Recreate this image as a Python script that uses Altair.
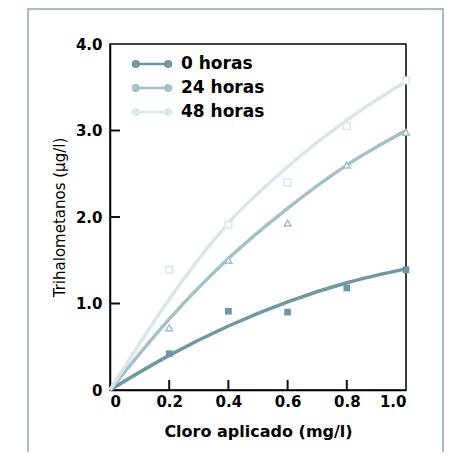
import altair as alt
import pandas as pd

series = ["0 horas", "24 horas", "48 horas"]
colors = ["#6e98a6", "#a3c1cb", "#dae6ea"]

x_grid = [0, 0.2, 0.4, 0.6, 0.8, 1.0]
curve_0 = [0, 0.40, 0.74, 1.02, 1.24, 1.40]
curve_24 = [0, 0.82, 1.52, 2.10, 2.60, 3.00]
curve_48 = [0, 1.05, 1.93, 2.58, 3.12, 3.57]

x_pts = [0.2, 0.4, 0.6, 0.8, 1.0]
pts_0 = [0.42, 0.91, 0.90, 1.18, 1.39]
pts_24 = [0.72, 1.50, 1.93, 2.60, 2.98]
pts_48 = [1.39, 1.91, 2.40, 3.05, 3.58]

x_ticks = [0.2, 0.4, 0.6, 0.8]
y_ticks = [1, 2, 3]

curves = pd.DataFrame(
    [(s, x, y) for s, ys in zip(series, [curve_0, curve_24, curve_48]) for x, y in zip(x_grid, ys)],
    columns=["series", "x", "y"],
)

FONT = "DejaVu Sans"
xscale = alt.Scale(domain=[0, 1], nice=False)
yscale = alt.Scale(domain=[0, 4], nice=False)

xaxis = alt.Axis(
    title="Cloro aplicado (mg/l)", values=[0, 0.2, 0.4, 0.6, 0.8, 1.0],
    labelExpr="datum.value == 0 ? '0' : format(datum.value, '.1f')",
    ticks=False, grid=False, domainColor="black", domainWidth=1.5,
    labelFont=FONT, labelFontWeight="bold", labelFontSize=15, labelColor="black",
    labelPadding=4, titleFont=FONT, titleFontWeight="bold", titleFontSize=16,
    titleColor="black", titlePadding=14,
)
yaxis = alt.Axis(
    title="Trihalometanos (µg/l)", values=[0, 1, 2, 3, 4],
    labelExpr="datum.value == 0 ? '0' : format(datum.value, '.1f')",
    ticks=False, grid=False, domainColor="black", domainWidth=1.5,
    labelFont=FONT, labelFontWeight="bold", labelFontSize=15, labelColor="black",
    labelPadding=8, titleFont=FONT, titleFontWeight="normal", titleFontSize=15,
    titleColor="black", titlePadding=8,
)

legend_path = ("M-2,0 L2,0 "
               "M-2,0 A0.3,0.3 0 1,1 -1.4,0 A0.3,0.3 0 1,1 -2,0 Z "
               "M1.4,0 A0.3,0.3 0 1,1 2,0 A0.3,0.3 0 1,1 1.4,0 Z")

lines = alt.Chart(curves).mark_line(interpolate="monotone", strokeWidth=3.5).encode(
    x=alt.X("x:Q", scale=xscale, axis=xaxis),
    y=alt.Y("y:Q", scale=yscale, axis=yaxis),
    color=alt.Color(
        "series:N", scale=alt.Scale(domain=series, range=colors),
        legend=alt.Legend(
            title=None, orient="none", legendX=31, legendY=9,
            symbolType=legend_path, symbolSize=361, symbolStrokeWidth=2.5,
            symbolFillColor="white",
            labelFont=FONT, labelFontWeight="bold", labelFontSize=17,
            labelColor="black", labelOffset=18, rowPadding=5, padding=0,
        ),
    ),
    detail="series:N",
)


def pts_layer(ys, shape, color, filled):
    df = pd.DataFrame({"x": x_pts, "y": ys})
    return alt.Chart(df).mark_point(
        shape=shape, size=45, strokeWidth=1.5, opacity=1, color=color,
        filled=filled, fill=color if filled else "white",
    ).encode(x=alt.X("x:Q", scale=xscale), y=alt.Y("y:Q", scale=yscale))


p0 = pts_layer(pts_0, "square", colors[0], True)
p24 = pts_layer(pts_24, "triangle-up", colors[1], False)
p48 = pts_layer(pts_48, "square", colors[2], False)

yt = alt.Chart(pd.DataFrame({"v": y_ticks})).mark_rule(
    color="#111111", strokeWidth=2
).encode(y=alt.Y("v:Q", scale=yscale), x=alt.value(0), x2=alt.value(10))
xt = alt.Chart(pd.DataFrame({"v": x_ticks})).mark_rule(
    color="#111111", strokeWidth=2
).encode(x=alt.X("v:Q", scale=xscale), y=alt.value(336), y2=alt.value(346))

border = alt.Chart(pd.DataFrame({"a": [0]})).mark_rect(
    fill="transparent", stroke="#8aa6b5", strokeWidth=1.5
).encode(x=alt.value(-82), x2=alt.value(333), y=alt.value(-35), y2=alt.value(420))

chart = alt.layer(border, lines, p0, p24, p48, yt, xt).properties(
    width=296, height=346,
    autosize=alt.AutoSizeParams(type="none"),
    padding={"left": 102, "top": 36, "right": 39, "bottom": 62},
).configure(
    background="white",
).configure_view(stroke="black", strokeWidth=1.5)

chart.save("out.html", embed_options={"renderer": "svg", "actions": False})
